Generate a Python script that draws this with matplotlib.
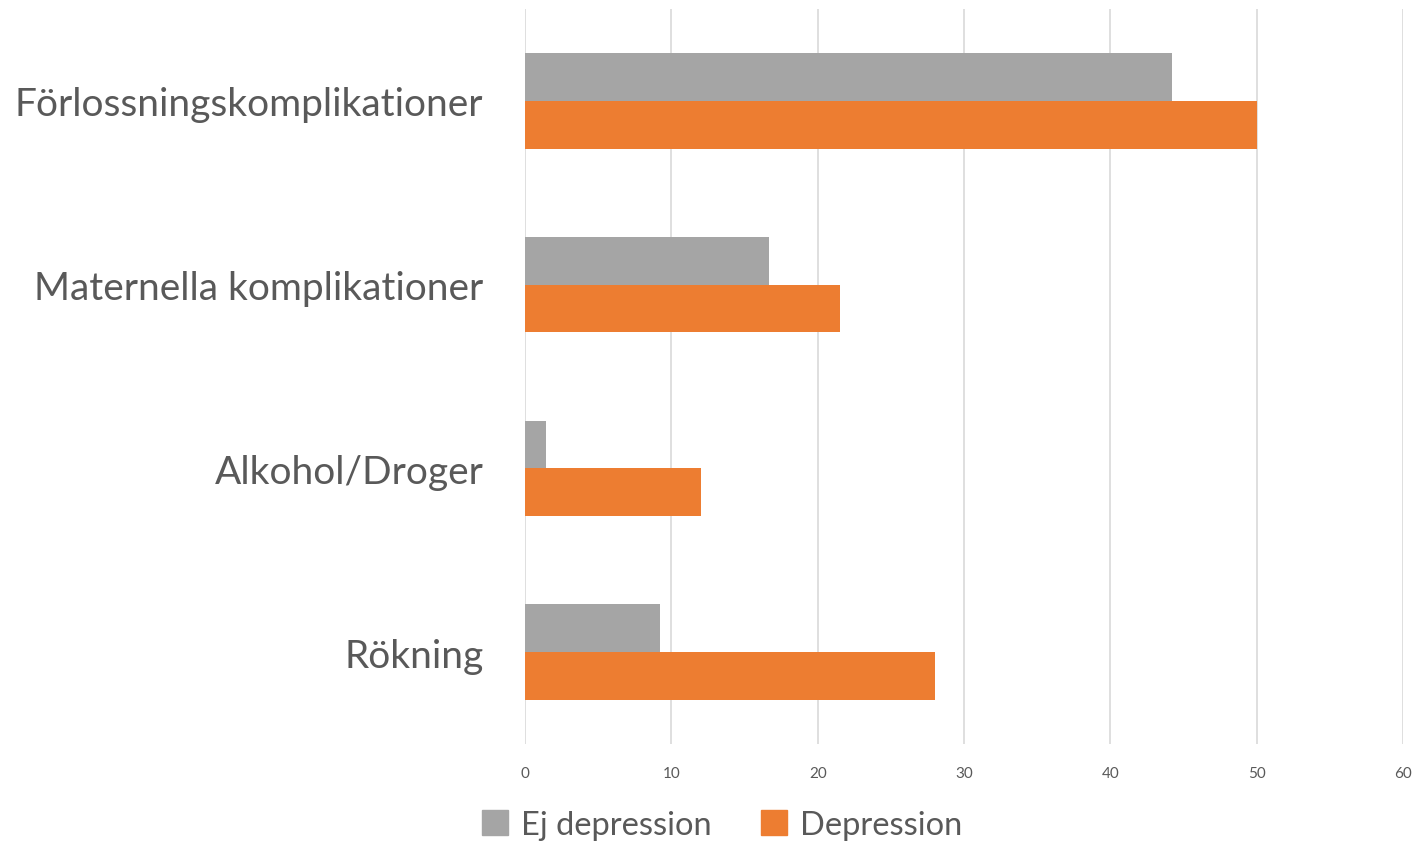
import numpy as np
import matplotlib.pyplot as plt
from matplotlib.patches import Patch

categories = ['Förlossningskomplikationer', 'Maternella komplikationer', 'Alkohol/Droger', 'Rökning']
ej_depression = [44.2, 16.7, 1.4, 9.2]
depression = [50.0, 21.5, 12.0, 28.0]
series_names = ['Ej depression', 'Depression']

GRAY = '#A5A5A5'
ORANGE = '#ED7D31'
TEXT = '#595959'

plt.rcParams['font.family'] = ['Lato', 'DejaVu Sans']

fig = plt.figure(figsize=(14.19, 8.45), dpi=100)
ax = fig.add_axes([0.370, 0.1183, 0.6187, 0.8699])

y = np.arange(len(categories))
h = 0.26
ax.barh(y - h / 2, ej_depression, height=h, color=GRAY, label=series_names[0])
ax.barh(y + h / 2, depression, height=h, color=ORANGE, label=series_names[1])

ax.set_xlim(0, 60)
ax.set_ylim(len(categories) - 0.5, -0.5)
ax.set_xticks(np.arange(0, 61, 10))
ax.set_yticks(y)
ax.set_yticklabels(categories, fontsize=28, color=TEXT)
ax.tick_params(axis='y', length=0, pad=30)
ax.tick_params(axis='x', length=0, pad=16, labelsize=11, labelcolor=TEXT)
ax.xaxis.grid(True, color='#D9D9D9', linewidth=1.2)
ax.set_axisbelow(True)
for s in ax.spines.values():
    s.set_visible(False)

handles = [Patch(color=GRAY), Patch(color=ORANGE)]
fig.legend(handles, series_names, loc='center', bbox_to_anchor=(0.509, 0.023),
           ncol=2, frameon=False, fontsize=23.5, labelcolor=TEXT,
           handlelength=0.8, handleheight=0.8, handletextpad=0.4, columnspacing=1.5)

fig.savefig('out.png', dpi=100)
